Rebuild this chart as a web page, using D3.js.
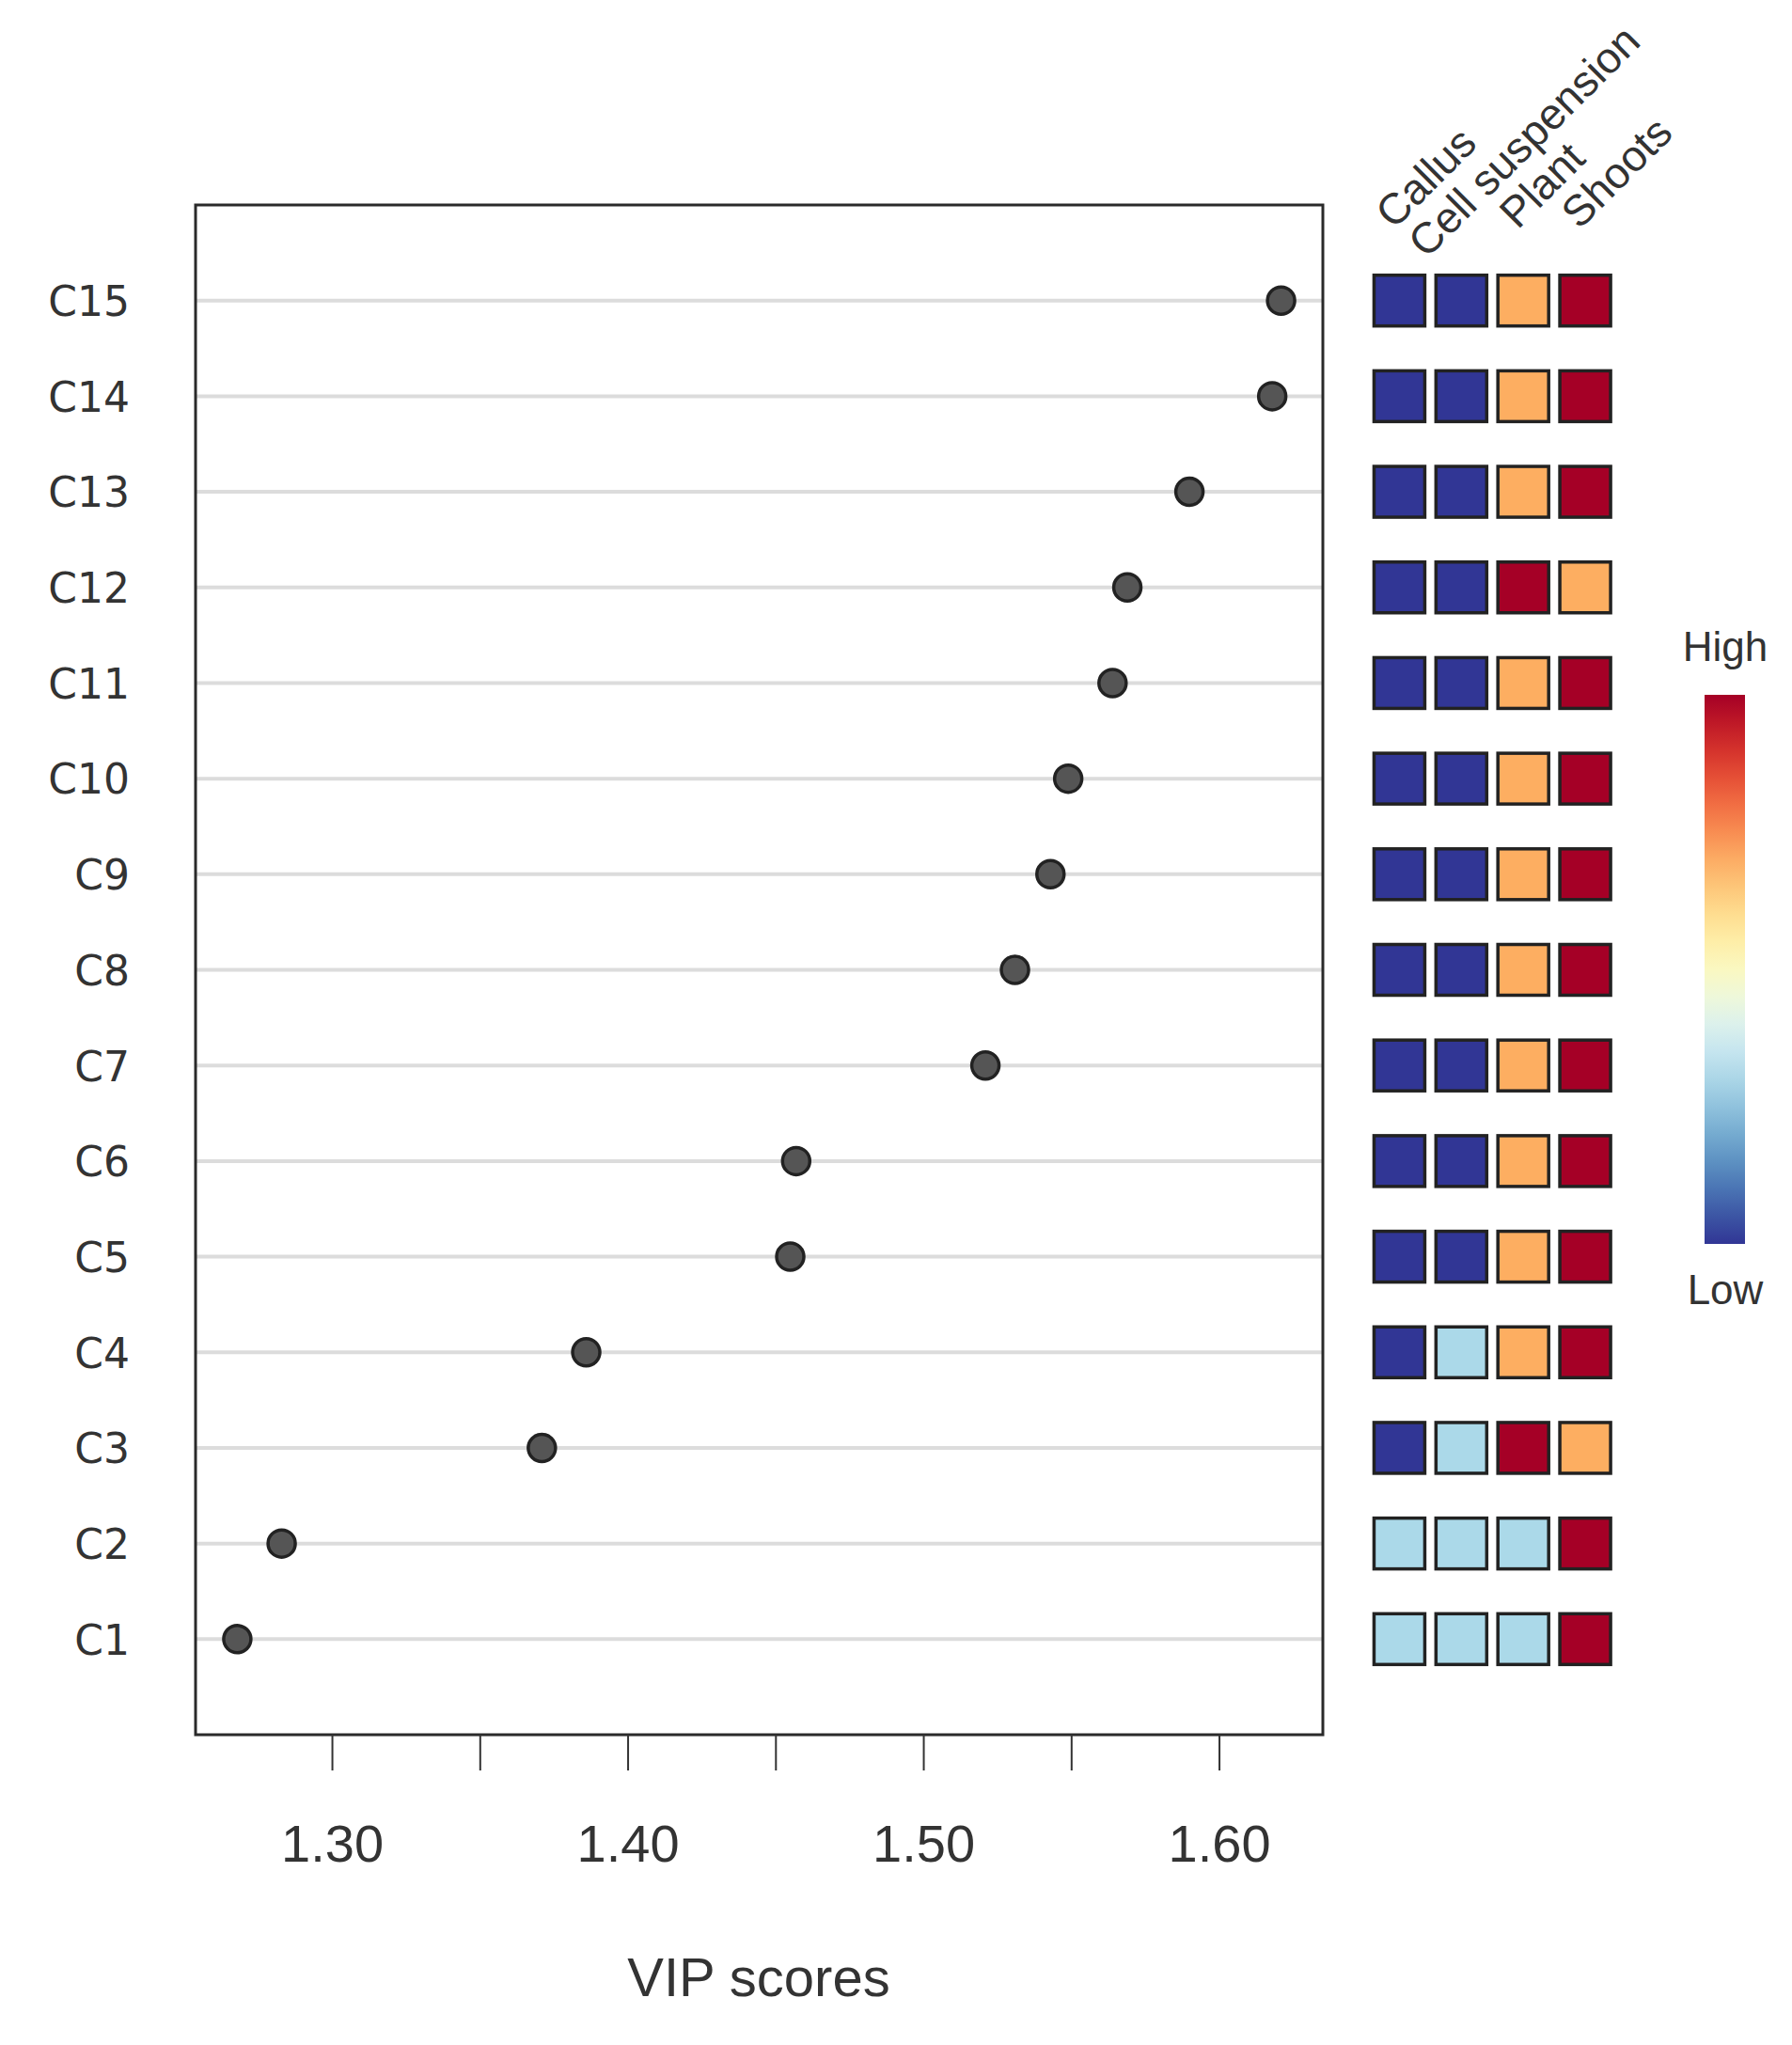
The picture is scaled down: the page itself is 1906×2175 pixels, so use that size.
<!DOCTYPE html>
<html>
<head>
<meta charset="utf-8">
<script src="https://d3js.org/d3.v7.min.js"></script>
<style>
  body { margin: 0; background: #fff; }
  svg { display: block; }
</style>
</head>
<body>
<svg class="chart"></svg>
<script>
// compounds, bottom (C1) to top (C15)
var compounds = ["C1","C2","C3","C4","C5","C6","C7","C8","C9","C10","C11","C12","C13","C14","C15"]
var vipScores = [1.268, 1.283, 1.371, 1.386, 1.455, 1.457, 1.521, 1.531, 1.543, 1.549, 1.564, 1.569, 1.590, 1.618, 1.621]

// relative level of each compound per tissue: 1 = low ... 4 = high
var tissues = ["Callus", "Cell suspension", "Plant", "Shoots"]
var callus         = [2,2,1,1,1,1,1,1,1,1,1,1,1,1,1]
var cellSuspension = [2,2,2,2,1,1,1,1,1,1,1,1,1,1,1]
var plant          = [2,2,4,3,3,3,3,3,3,3,3,4,3,3,3]
var shoots         = [4,4,3,4,4,4,4,4,4,4,4,3,4,4,4]

var xTicks = [1.30, 1.35, 1.40, 1.45, 1.50, 1.55, 1.60]
var xTickLabels = ["1.30", "", "1.40", "", "1.50", "", "1.60"]

var W = 1906, H = 2175
var plotLeft = 208, plotRight = 1407, plotTop = 218, plotBottom = 1845
var sans = "'Liberation Sans', Arial, sans-serif"
var ink = "#333"

var chart = d3.select(".chart").attr("width", W).attr("height", H)
chart.append("rect").attr("width", W).attr("height", H).attr("fill", "#fff")

// R style range: data extent plus 4% each side
var lo = d3.min(vipScores), hi = d3.max(vipScores), pad = (hi - lo) * 0.04
var x = d3.scaleLinear().domain([lo - pad, hi + pad]).range([plotLeft, plotRight])
var y = d3.scalePoint().domain(compounds.slice().reverse()).range([plotTop, plotBottom]).padding(1)

var rows = compounds.map(function(c, i) {
  return {name: c, vip: vipScores[i], levels: [callus[i], cellSuspension[i], plant[i], shoots[i]]}
})

// grid lines
chart.append("g").selectAll("line")
    .data(rows)
  .enter().append("line")
    .attr("x1", plotLeft).attr("x2", plotRight)
    .attr("y1", function(d) { return y(d.name) })
    .attr("y2", function(d) { return y(d.name) })
    .attr("stroke", "#dcdcdc")
    .attr("stroke-width", 4)

// plot frame
chart.append("rect")
    .attr("x", plotLeft).attr("y", plotTop)
    .attr("width", plotRight - plotLeft).attr("height", plotBottom - plotTop)
    .attr("fill", "none").attr("stroke", "#2a2a2a").attr("stroke-width", 3)

// dots
chart.append("g").selectAll("circle")
    .data(rows)
  .enter().append("circle")
    .attr("cx", function(d) { return x(d.vip) })
    .attr("cy", function(d) { return y(d.name) })
    .attr("r", 14.5)
    .attr("fill", "#555")
    .attr("stroke", "#222")
    .attr("stroke-width", 3.5)

// x axis
var xAxis = chart.append("g")
    .attr("transform", "translate(0," + plotBottom + ")")
    .call(d3.axisBottom(x)
      .tickValues(xTicks)
      .tickFormat(function(d, i) { return xTickLabels[i] })
      .tickSize(38)
      .tickPadding(57))
xAxis.select(".domain").remove()
xAxis.selectAll("line").attr("stroke", ink).attr("stroke-width", 2)
xAxis.selectAll("text")
    .attr("fill", ink)
    .style("font-family", sans)
    .style("font-size", "56px")

chart.append("text")
    .attr("x", 807).attr("y", 2123)
    .attr("text-anchor", "middle")
    .attr("fill", ink)
    .style("font-family", sans)
    .style("font-size", "58px")
    .text("VIP scores")

// y labels
var yAxis = chart.append("g")
    .attr("transform", "translate(" + plotLeft + ",0)")
    .call(d3.axisLeft(y).tickSize(0).tickPadding(70))
yAxis.select(".domain").remove()
yAxis.selectAll("text")
    .attr("dy", "0.36em")
    .attr("fill", ink)
    .style("font-family", "'DejaVu Sans', sans-serif")
    .style("font-size", "44px")

// heat squares
var pal = d3.schemeRdYlBu[11]
var levelColor = d3.scaleOrdinal().domain([1, 2, 3, 4]).range([pal[10], pal[7], pal[3], pal[0]])
var col = d3.scaleBand().domain(tissues).range([1455.5, 1719]).paddingInner(0)
var cell = 54

var heat = chart.append("g").selectAll("g")
    .data(rows)
  .enter().append("g")
    .attr("transform", function(d) { return "translate(0," + y(d.name) + ")" })

heat.selectAll("rect")
    .data(function(d) { return d.levels.map(function(v, j) { return {tissue: tissues[j], level: v} }) })
  .enter().append("rect")
    .attr("x", function(d) { return col(d.tissue) + col.bandwidth() / 2 - cell / 2 })
    .attr("y", -cell / 2)
    .attr("width", cell).attr("height", cell)
    .attr("fill", function(d) { return levelColor(d.level) })
    .attr("stroke", "#222")
    .attr("stroke-width", 3.5)

// column headers, rotated 45 degrees
var headerShift = [0, -44, 0, 0]
chart.append("g").selectAll("text")
    .data(tissues)
  .enter().append("text")
    .attr("transform", function(d, i) {
      var cx = col(d) + col.bandwidth() / 2 - 6
      var s = headerShift[i] / Math.SQRT2
      return "translate(" + (cx + s) + "," + (245 - s) + ") rotate(-45)"
    })
    .attr("fill", ink)
    .style("font-family", sans)
    .style("font-size", "46px")
    .text(function(d) { return d })

// colour key
var grad = chart.append("defs").append("linearGradient")
    .attr("id", "key").attr("x1", 0).attr("y1", 0).attr("x2", 0).attr("y2", 1)
grad.selectAll("stop")
    .data(d3.range(0, 1.0001, 0.05))
  .enter().append("stop")
    .attr("offset", function(t) { return t })
    .attr("stop-color", function(t) { return d3.interpolateRdYlBu(t) })

chart.append("rect")
    .attr("x", 1813).attr("y", 739)
    .attr("width", 43).attr("height", 584)
    .attr("fill", "url(#key)")

chart.append("text")
    .attr("x", 1835).attr("y", 703)
    .attr("text-anchor", "middle").attr("fill", ink)
    .style("font-family", sans).style("font-size", "44px")
    .text("High")
chart.append("text")
    .attr("x", 1835).attr("y", 1387)
    .attr("text-anchor", "middle").attr("fill", ink)
    .style("font-family", sans).style("font-size", "44px")
    .text("Low")
</script>
</body>
</html>
